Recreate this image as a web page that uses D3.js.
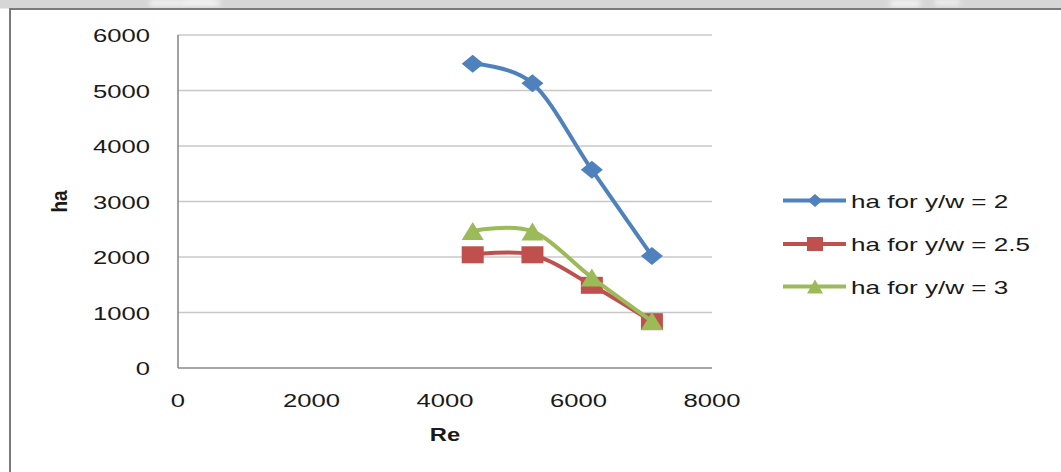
<!DOCTYPE html>
<html>
<head>
<meta charset="utf-8">
<script src="https://cdn.jsdelivr.net/npm/d3@7"></script>
<style>
  html, body { margin: 0; padding: 0; background: #fff; }
  svg { display: block; }
  text { font-family: "Liberation Sans", Arial, sans-serif; fill: #1a1a1a; }
</style>
</head>
<body>
<svg id="chart" width="1061" height="472"></svg>
<script>
// Reynolds number at each measuring point
const reValues = [4415, 5310, 6200, 7100];

// Heat transfer coefficient for each y/w ratio
const seriesNames = ["ha for y/w = 2", "ha for y/w = 2.5", "ha for y/w = 3"];
const haYw2   = [5480, 5130, 3570, 2020];
const haYw25  = [2040, 2040, 1490, 835];
const haYw3   = [2470, 2460, 1630, 845];

// Axis ticks
const xTicks = [0, 2000, 4000, 6000, 8000];
const yTicks = [0, 1000, 2000, 3000, 4000, 5000, 6000];

const colors  = ["#4f81bd", "#c0504d", "#9bbb59"];
const markers = ["diamond", "square", "triangle"];
const seriesValues = [haYw2, haYw25, haYw3];

const svg = d3.select("#chart");
const W = 1061, H = 472;

// Page frame: grey strip on top with a dark rule, and a rule down the left side
svg.append("rect").attr("x", 0).attr("y", 0).attr("width", W).attr("height", 8.5).attr("fill", "#d6d6d6");
const haze = svg.append("defs").append("filter").attr("id", "soft").attr("x", "-50%").attr("y", "-50%").attr("width", "200%").attr("height", "200%");
haze.append("feGaussianBlur").attr("stdDeviation", 2.5);
[[150, 0, 70, 6], [185, 0, 30, 4], [890, 0, 30, 7], [935, 0, 25, 5]].forEach(([x, y, w, h]) => {
  svg.append("rect").attr("x", x).attr("y", y).attr("width", w).attr("height", h)
    .attr("fill", "#f2f2f2").attr("filter", "url(#soft)");
});
svg.append("line").attr("x1", 9).attr("x2", W).attr("y1", 9).attr("y2", 9)
  .attr("stroke", "#7a7a7a").attr("stroke-width", 2);
svg.append("line").attr("x1", 10).attr("x2", 10).attr("y1", 8).attr("y2", H)
  .attr("stroke", "#7a7a7a").attr("stroke-width", 2);

// Plot area
const x = d3.scaleLinear().domain([0, 8000]).range([178, 712]);
const y = d3.scaleLinear().domain([0, 6000]).range([368, 35]);

const SX = 1.35; // horizontal stretch of the lettering

// Gridlines
svg.append("g").selectAll("line").data(yTicks.filter(d => d > 0)).join("line")
  .attr("x1", x(0)).attr("x2", x(8000))
  .attr("y1", d => y(d)).attr("y2", d => y(d))
  .attr("stroke", "#c8c8c8").attr("stroke-width", 1.6);

// Axis lines
svg.append("line").attr("x1", x(0)).attr("x2", x(0)).attr("y1", y(6000)).attr("y2", y(0))
  .attr("stroke", "#8a8a8a").attr("stroke-width", 1.6);
svg.append("line").attr("x1", x(0)).attr("x2", x(8000)).attr("y1", y(0)).attr("y2", y(0))
  .attr("stroke", "#8a8a8a").attr("stroke-width", 1.6);

// Tick labels
svg.append("g").selectAll("text").data(yTicks).join("text")
  .attr("transform", d => `translate(150,${y(d) + 7}) scale(${SX},1)`)
  .attr("text-anchor", "end").attr("font-size", 19)
  .text(d => d);

svg.append("g").selectAll("text").data(xTicks).join("text")
  .attr("transform", d => `translate(${x(d)},${407}) scale(${SX},1)`)
  .attr("text-anchor", "middle").attr("font-size", 19)
  .text(d => d);

// Axis titles
svg.append("text")
  .attr("transform", `translate(${(x(0) + x(8000)) / 2},441) scale(1.25,1)`)
  .attr("text-anchor", "middle").attr("font-size", 19).attr("font-weight", "bold")
  .text("Re");
svg.append("text")
  .attr("transform", `translate(67,${y(3000)}) rotate(-90) scale(1,1.2)`)
  .attr("text-anchor", "middle").attr("font-size", 19).attr("font-weight", "bold")
  .text("ha");

// Marker shapes, drawn wider than tall like the rest of the lettering
function markerPath(kind, w, h) {
  const a = w / 2, b = h / 2;
  if (kind === "diamond") return `M${-a},0L0,${-b}L${a},0L0,${b}Z`;
  if (kind === "square") return `M${-a},${-b}H${a}V${b}H${-a}Z`;
  return `M0,${-b}L${a},${b}L${-a},${b}Z`;
}

const line = d3.line().x(d => x(d[0])).y(d => y(d[1])).curve(d3.curveCatmullRom.alpha(0));

seriesValues.forEach((vals, i) => {
  const pts = reValues.map((r, k) => [r, vals[k]]);
  const g = svg.append("g");
  g.append("path").datum(pts).attr("d", line)
    .attr("fill", "none").attr("stroke", colors[i]).attr("stroke-width", 4)
    .attr("stroke-linejoin", "round").attr("stroke-linecap", "round");
  g.selectAll("path.m").data(pts).join("path").attr("class", "m")
    .attr("transform", d => `translate(${x(d[0])},${y(d[1])})`)
    .attr("d", markers[i] === "diamond" ? markerPath("diamond", 22, 18)
             : markers[i] === "square" ? markerPath("square", 22, 17)
             : markerPath("triangle", 22, 18))
    .attr("fill", colors[i]);
});

// Legend
const legendRows = [200.5, 244, 286.5];
seriesNames.forEach((name, i) => {
  const ly = legendRows[i];
  const g = svg.append("g");
  g.append("line").attr("x1", 783).attr("x2", 846).attr("y1", ly).attr("y2", ly)
    .attr("stroke", colors[i]).attr("stroke-width", 4);
  g.append("path").attr("transform", `translate(815,${ly})`)
    .attr("d", markers[i] === "diamond" ? markerPath("diamond", 15, 13)
             : markers[i] === "square" ? markerPath("square", 16, 14)
             : markerPath("triangle", 16, 14))
    .attr("fill", colors[i]);
  g.append("text").attr("transform", `translate(851,${ly + 7}) scale(1.45,1)`)
    .attr("font-size", 18).text(name);
});
</script>
</body>
</html>
